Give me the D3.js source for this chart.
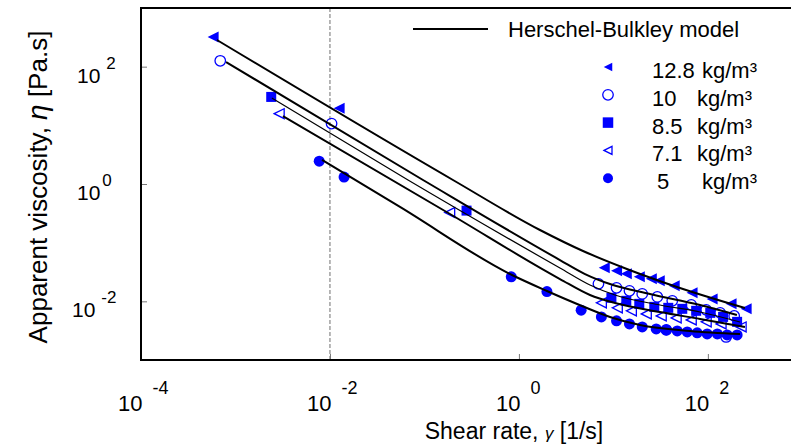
<!DOCTYPE html>
<html>
<head>
<meta charset="utf-8">
<script src="https://cdn.jsdelivr.net/npm/d3@7"></script>
<style>
  html, body { margin: 0; padding: 0; background: #fff; }
  svg { display: block; font-family: Arial, "Liberation Sans", sans-serif; }
</style>
</head>
<body>
<svg id="chart" width="791" height="447"></svg>
<script>
// ---------------- data ----------------
const seriesNames = ["12.8", "10", "8.5", "7.1", "5"];
const legendUnit = "kg/m³";
const xTickValues = [1e-4, 1e-2, 1e0, 1e2];
const xTickExponents = ["-4", "-2", "0", "2"];
const yTickValues = [1e-2, 1e0, 1e2];
const yTickExponents = ["-2", "0", "2"];

// measured points [shear rate (1/s), apparent viscosity (Pa.s)]
const pts128 = [[5.8e-4, 319], [0.0125, 19.5], [8.0, 0.0374], [10.8, 0.0332], [13.7, 0.0295], [18.8, 0.0262],
  [25.2, 0.0243], [30.6, 0.0224], [44, 0.0184], [68, 0.0140], [111, 0.0110], [176, 0.00906], [254, 0.00745]];
const pts10 = [[6.9e-4, 126], [0.0104, 10.7], [6.95, 0.0199], [10.8, 0.0170], [14.8, 0.0151], [20.2, 0.0134],
  [29.2, 0.0119], [42, 0.0102], [66.7, 0.00871], [96, 0.00716], [135, 0.00636], [190, 0.00565],
  [36.3, 0.00326], [156, 0.00247]];
const pts85 = [[0.00239, 30.5], [0.279, 0.352], [9.53, 0.0115], [13.7, 0.0102], [18.8, 0.00906], [27.1, 0.00805],
  [38.1, 0.00775], [53.6, 0.00745], [75.2, 0.00689], [106, 0.00636], [145, 0.00543], [204, 0.00447]];
const pts71 = [[0.0029, 15.8], [0.185, 0.326], [7.46, 0.00942], [11.0, 0.00775], [15.5, 0.00689], [22.3, 0.00611],
  [32.1, 0.00565], [46.2, 0.00522], [66.7, 0.00483], [96, 0.00447], [138, 0.00412], [225, 0.00366]];
const pts5 = [[0.0077, 2.45], [0.0141, 1.31], [0.83, 0.0262], [1.98, 0.0147], [4.56, 0.00706], [7.46, 0.00543],
  [10.8, 0.00465], [14.8, 0.00412], [20.2, 0.00366], [28.4, 0.00339], [36.3, 0.00326], [47.4, 0.00313],
  [60.5, 0.00301], [77.1, 0.00290], [98.4, 0.00278], [126, 0.00278], [160, 0.00267], [204, 0.00267]];

// Herschel-Bulkley model curves
const hb128 = [[6.37e-4, 285], [0.2005, 1.17], [1.67, 0.1644], [4.77, 0.0721], [13.9, 0.0356], [47.1, 0.01754], [247, 0.00769]];
const hb10 = [[7.94e-4, 120], [0.0966, 1.17], [2.72, 0.0506], [5.01, 0.0292], [9.20, 0.01975], [24.4, 0.01334], [82.6, 0.00866], [203, 0.00585]];
const hb85 = [[0.00243, 29.2], [0.0670, 1.17], [2.72, 0.0370], [5.65, 0.0190], [10.4, 0.01283], [31.1, 0.00866], [82.6, 0.00658], [219, 0.00444]];
const hb71 = [[0.00318, 14.4], [0.1864, 0.308], [2.72, 0.0240], [5.65, 0.01283], [10.4, 0.00937], [31.1, 0.00658], [82.6, 0.00500], [247, 0.00365]];
const hb5 = [[0.00824, 2.57], [0.0551, 0.406], [0.845, 0.0281], [1.98, 0.0150], [4.65, 0.00833], [9.20, 0.00541], [19.1, 0.00395], [64.7, 0.00312], [219, 0.00277]];

// ---------------- drawing ----------------
const svg = d3.select("#chart");
const blue = "#0000ff";
const x = d3.scaleLog().domain([1e-4, Math.pow(10, 2.88)]).range([141, 791]);
const y = d3.scaleLog().domain([1e-3, 1e3]).range([360, 8]);

function leftTri(s) { // pointing left
  return `M${-s / 2},0L${s / 2},${-s / 2}L${s / 2},${s / 2}Z`;
}
const markerDefs = [
  { pts: pts128, draw: (g, s) => g.append("path").attr("d", leftTri(s || 11)).attr("fill", blue) },
  { pts: pts10, draw: (g, s) => g.append("circle").attr("r", (s || 10.5) / 2).attr("fill", "none").attr("stroke", blue).attr("stroke-width", 1.3) },
  { pts: pts85, draw: (g, s) => g.append("rect").attr("x", -(s || 10) / 2).attr("y", -(s || 10) / 2).attr("width", s || 10).attr("height", s || 10).attr("fill", blue) },
  { pts: pts71, draw: (g, s) => g.append("path").attr("d", leftTri(s || 10)).attr("fill", "none").attr("stroke", blue).attr("stroke-width", 1.3) },
  { pts: pts5, draw: (g, s) => g.append("circle").attr("r", (s || 11) / 2).attr("fill", blue) }
];

// dashed reference line at 1e-2
svg.append("line")
  .attr("x1", x(1e-2)).attr("x2", x(1e-2))
  .attr("y1", y(1e3)).attr("y2", y(1e-3))
  .attr("stroke", "#888").attr("stroke-width", 1.2).attr("stroke-dasharray", "4,2");

// axes (inward ticks)
const xAxis = d3.axisBottom(x).tickValues(xTickValues).tickSize(-6).tickFormat("");
const gx = svg.append("g").attr("transform", `translate(0,${y(1e-3)})`).call(xAxis);
gx.select(".domain").remove();
gx.selectAll(".tick line").attr("stroke", "#777").attr("stroke-width", 1);

const yAxis = d3.axisLeft(y).tickValues(yTickValues).tickSize(-6).tickFormat("");
const gy = svg.append("g").attr("transform", `translate(${x(1e-4)},0)`).call(yAxis);
gy.select(".domain").remove();
gy.selectAll(".tick line").attr("stroke", "#777").attr("stroke-width", 1);

// frame: left, top, bottom (right side open)
svg.append("path").attr("fill", "none").attr("stroke", "#000").attr("stroke-width", 2)
  .attr("d", `M791,${y(1e3)}H${x(1e-4)}V${y(1e-3)}H791`);

// markers
markerDefs.forEach(m => {
  const g = svg.append("g");
  m.pts.forEach(p => {
    const mg = g.append("g").attr("transform", `translate(${x(p[0])},${y(p[1])})`);
    m.draw(mg);
  });
});

// model curves
const line = d3.line().x(d => x(d[0])).y(d => y(d[1])).curve(d3.curveMonotoneX);
[[hb128, 2], [hb10, 2], [hb85, 1.2], [hb71, 2], [hb5, 2]].forEach(([d, w]) => {
  svg.append("path").attr("d", line(d)).attr("fill", "none").attr("stroke", "#000").attr("stroke-width", w);
});

// x tick labels
xTickValues.forEach((v, i) => {
  const t = svg.append("text").attr("x", x(v) - 23).attr("y", 411).attr("font-size", 22).attr("fill", "#000");
  t.append("tspan").text("10");
  t.append("tspan").attr("dx", 10).attr("dy", -17).attr("font-size", 18).text(xTickExponents[i]);
});
// y tick labels
yTickValues.forEach((v, i) => {
  const exp = yTickExponents[i];
  const x0 = exp === "-2" ? 72 : 77;
  const t = svg.append("text").attr("x", x0).attr("y", y(v) + 16).attr("font-size", 21).attr("fill", "#000");
  t.append("tspan").text("10");
  t.append("tspan").attr("dx", exp === "0" ? 2 : 6).attr("dy", -14).attr("font-size", 17).text(exp);
});

// axis titles
const xt = svg.append("text").attr("x", 514).attr("y", 439).attr("text-anchor", "middle").attr("font-size", 23).attr("fill", "#000");
xt.append("tspan").text("Shear rate, ");
xt.append("tspan").attr("font-style", "italic").attr("font-size", 17).text("γ");
xt.append("tspan").text(" [1/s]");

const yt = svg.append("text").attr("transform", "translate(47,187) rotate(-90)").attr("text-anchor", "middle").attr("font-size", 26).attr("fill", "#000");
yt.append("tspan").text("Apparent viscosity, ");
yt.append("tspan").attr("font-style", "italic").attr("font-size", 28).text("η");
yt.append("tspan").text(" [Pa.s]");

// legend
svg.append("line").attr("x1", 413).attr("x2", 488).attr("y1", 29).attr("y2", 29).attr("stroke", "#000").attr("stroke-width", 2);
svg.append("text").attr("x", 508).attr("y", 37).attr("font-size", 22).attr("fill", "#000").text("Herschel-Bulkley model");
const legendSizes = [8.5, 10.5, 10.5, 8, 10];
const numX = [652, 652, 652, 652, 657];
const unitX = [702, 697, 697, 697, 702];
markerDefs.forEach((m, i) => {
  const cy = 67 + i * 27.8;
  const mg = svg.append("g").attr("transform", `translate(608,${cy})`);
  m.draw(mg, legendSizes[i]);
  svg.append("text").attr("x", numX[i]).attr("y", cy + 11).attr("font-size", 22).attr("fill", "#000").text(seriesNames[i]);
  svg.append("text").attr("x", unitX[i]).attr("y", cy + 11).attr("font-size", 22).attr("fill", "#000").text(legendUnit);
});
</script>
</body>
</html>
